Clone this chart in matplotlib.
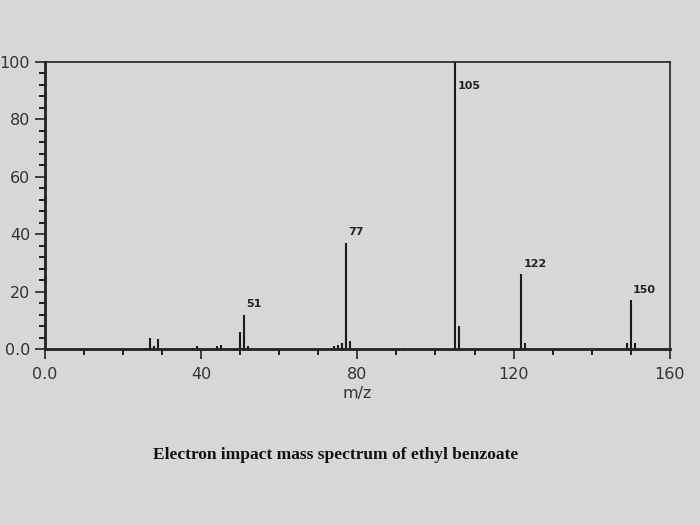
import matplotlib
matplotlib.use("Agg")
import matplotlib.pyplot as plt
from matplotlib.ticker import MultipleLocator

# m/z values and relative intensities
mz = [26, 27, 28, 29, 38, 39, 44, 45, 50, 51, 52, 74, 75, 76, 77, 78, 92,
      105, 106, 122, 123, 149, 150, 151]
intensity = [0.5, 4, 1, 3.5, 0.5, 1, 1, 1.5, 6, 12, 1, 1, 1.5, 2, 37, 3, 0.5,
             100, 8, 26, 2, 2, 17, 2]

label_mz = [51, 77, 105, 122, 150]
label_y = [12, 37, 90, 26, 17]
label_text = ["51", "77", "105", "122", "150"]

xticks = [0, 40, 80, 120, 160]
xticklabels = ["0.0", "40", "80", "120", "160"]
yticks = [0, 20, 40, 60, 80, 100]
yticklabels = ["0.0", "20", "40", "60", "80", "100"]

bg = "#d7d7d5"
fig = plt.figure(figsize=(7, 5.25), dpi=100, facecolor=bg)
ax = fig.add_axes([0.064, 0.335, 0.893, 0.547], facecolor=bg)

ax.vlines(mz, 0, intensity, colors="#1a1a1a", linewidth=1.5)

for x, y, t in zip(label_mz, label_y, label_text):
    yy = y + 2 if x != 105 else y
    ax.text(x + 0.6, yy, t, fontsize=8, fontweight="bold", color="#222222",
            ha="left", va="bottom")

ax.set_xlim(0, 160)
ax.set_ylim(0, 100)
ax.set_xticks(xticks)
ax.set_xticklabels(xticklabels)
ax.set_yticks(yticks)
ax.set_yticklabels(yticklabels)
ax.xaxis.set_minor_locator(MultipleLocator(10))
ax.yaxis.set_minor_locator(MultipleLocator(4))
ax.tick_params(axis="both", which="major", labelsize=11.5, colors="#333333",
               length=7, width=1.3, direction="out")
ax.tick_params(axis="both", which="minor", length=4, width=1.2, direction="out")
ax.tick_params(axis="x", which="major", pad=6)
for s in ax.spines.values():
    s.set_color("#222222")
    s.set_linewidth(1.2)
ax.spines["bottom"].set_linewidth(2)
ax.spines["left"].set_linewidth(2)

ax.set_xlabel("m/z", fontsize=11.5, color="#333333", labelpad=3)

fig.text(0.48, 0.133, "Electron impact mass spectrum of ethyl benzoate",
         fontsize=12.5, fontweight="bold", family="Liberation Serif",
         color="#111111", ha="center", va="center")

fig.savefig("out.png", dpi=100, facecolor=bg)
